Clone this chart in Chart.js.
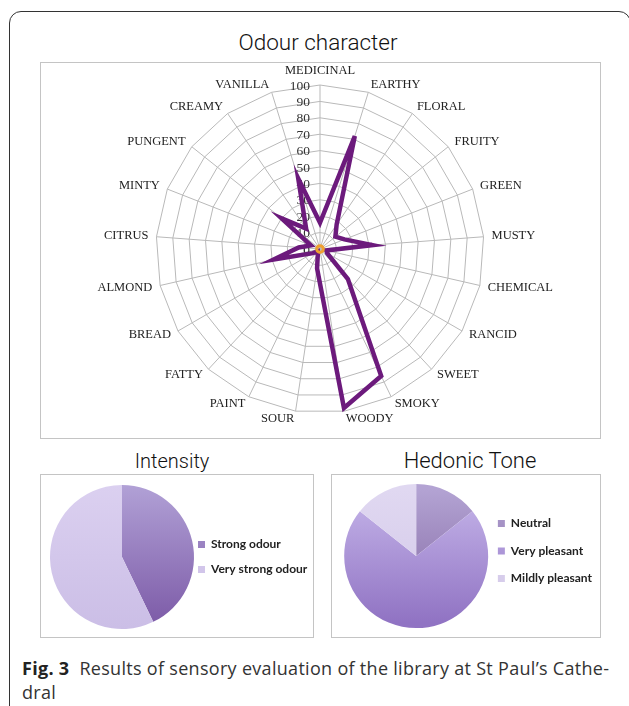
<!DOCTYPE html>
<html>
<head>
<meta charset="utf-8">
<title>Odour character</title>
<script src="https://cdn.jsdelivr.net/npm/chart.js@4.4.1/dist/chart.umd.min.js"></script>
<style>
  body { margin: 0; width: 629px; height: 706px; background: #fff; position: relative; overflow: hidden; }
  .frame { position: absolute; left: 9px; top: 11px; width: 620px; height: 740px; border: 1px solid #333; border-radius: 12px; }
  .box { position: absolute; border: 1px solid #c4c4c4; box-sizing: border-box; }
  .title { position: absolute; font-family: Roboto, "Liberation Sans", sans-serif; font-weight: 300; color: #111; text-align: center; line-height: 24px; }
  canvas { position: absolute; }
  .caption { position: absolute; left: 22px; top: 656px; width: 607px; font-family: "Open Sans", sans-serif; font-size: 18px; letter-spacing: 0.3px; line-height: 24px; color: #333; white-space: nowrap; }
  .caption b { color: #222; }
</style>
</head>
<body>
<div class="frame"></div>

<div class="title" style="left:168px; top:30px; width:300px; font-size:22.5px;">Odour character</div>
<div class="box" style="left:40px; top:62px; width:561px; height:377px;"></div>
<canvas id="odour" width="559" height="375" style="left:41px; top:63px;"></canvas>

<div class="title" style="left:72px; top:449px; width:200px; font-size:20px;">Intensity</div>
<div class="box" style="left:40px; top:474px; width:274px; height:164px;"></div>
<canvas id="intensity" width="270" height="162" style="left:41px; top:475px;"></canvas>

<div class="title" style="left:370px; top:449px; width:200px; font-size:22px;">Hedonic Tone</div>
<div class="box" style="left:331px; top:474px; width:270px; height:164px;"></div>
<canvas id="hedonic" width="270" height="162" style="left:332px; top:475px;"></canvas>

<div class="caption"><b>Fig. 3</b>&nbsp; Results of sensory evaluation of the library at St Paul’s Cathe-<br>dral</div>

<script>
// Odour character radar
const odourLabels = ['MEDICINAL', 'EARTHY', 'FLORAL', 'FRUITY', 'GREEN', 'MUSTY', 'CHEMICAL',
  'RANCID', 'SWEET', 'SMOKY', 'WOODY', 'SOUR', 'PAINT', 'FATTY', 'BREAD', 'ALMOND',
  'CITRUS', 'MINTY', 'PUNGENT', 'CREAMY', 'VANILLA'];
const odourValues = [16, 72, 18, 12, 16, 32, 4, 5, 25, 86, 98, 12, 3, 2, 5, 29, 13, 6, 30, 15, 45];
const odourBaseline = [2, 2, 2, 2, 2, 2, 2, 2, 2, 2, 2, 2, 2, 2, 2, 2, 2, 2, 2, 2, 2];
const radarTicks = [0, 10, 20, 30, 40, 50, 60, 70, 80, 90, 100];

// Intensity pie
const intensityLabels = ['Strong odour', 'Very strong odour'];
const intensityValues = [3, 4];
const intensityTop = ['#b1a1d6', '#dbd0f0'];
const intensityBottom = ['#7b59a6', '#cbbee6'];

// Hedonic tone pie
const hedonicLabels = ['Neutral', 'Very pleasant', 'Mildly pleasant'];
const hedonicValues = [1, 5, 1];
const hedonicTop = ['#b3a3d3', '#c6b6ea', '#e0d8f1'];
const hedonicBottom = ['#7f639f', '#9073c3', '#d2c7e8'];

// tick labels sit just left of the vertical axis, like the spreadsheet chart
const radarTickPlugin = {
  id: 'radarTicks',
  beforeDatasetsDraw(chart) {
    const s = chart.scales.r;
    const ctx = chart.ctx;
    ctx.save();
    ctx.font = '13.5px "Liberation Serif"';
    ctx.fillStyle = '#333';
    ctx.textAlign = 'right';
    ctx.textBaseline = 'middle';
    radarTicks.forEach(v => {
      const y = s.yCenter - s.getDistanceFromCenterForValue(v);
      ctx.fillText(String(v), s.xCenter - 10, y + 1);
    });
    ctx.restore();
  }
};

// category labels centred on the spoke ends (Chart.js would push them fully outside)
const radarLabelPlugin = {
  id: 'radarLabels',
  afterDraw(chart) {
    const s = chart.scales.r;
    const ctx = chart.ctx;
    ctx.save();
    ctx.font = '12.5px "Liberation Serif"';
    ctx.fillStyle = '#222';
    odourLabels.forEach((label, i) => {
      const p = s.getPointPosition(i, s.drawingArea + 8);
      const dx = p.x - s.xCenter;
      if (Math.abs(dx) < 1) {
        ctx.textAlign = 'center';
        ctx.textBaseline = p.y < s.yCenter ? 'bottom' : 'top';
      } else {
        ctx.textAlign = dx > 0 ? 'left' : 'right';
        ctx.textBaseline = 'middle';
      }
      ctx.fillText(label, p.x, p.y);
    });
    ctx.restore();
  }
};

new Chart(document.getElementById('odour'), {
  type: 'radar',
  data: {
    labels: odourLabels,
    datasets: [
      { data: odourBaseline, borderColor: '#f0a030', borderWidth: 3, fill: false },
      { data: odourValues, borderColor: '#6c1a7c', borderWidth: 4.5, fill: false }
    ]
  },
  options: {
    responsive: false,
    animation: false,
    devicePixelRatio: 1,
    layout: { padding: { top: 22, bottom: 25, left: 0, right: 0 } },
    elements: { point: { radius: 0 }, line: { tension: 0, borderJoinStyle: 'miter' } },
    plugins: { legend: { display: false }, tooltip: { enabled: false } },
    scales: {
      r: {
        min: 0,
        max: 100,
        ticks: { stepSize: 10, display: false },
        grid: { color: '#b9b9b9', lineWidth: 1 },
        angleLines: { color: '#b9b9b9', lineWidth: 1 },
        pointLabels: { display: false }
      }
    }
  },
  plugins: [radarTickPlugin, radarLabelPlugin]
});

function gradientFill(top, bottom) {
  return function (ctx) {
    const area = ctx.chart.chartArea;
    if (!area) return top[ctx.dataIndex];
    const g = ctx.chart.ctx.createLinearGradient(0, area.top, 0, area.bottom);
    g.addColorStop(0, top[ctx.dataIndex]);
    g.addColorStop(1, bottom[ctx.dataIndex]);
    return g;
  };
}

// topGap: empty title strip that pushes the pie down without moving the legend
function pieOptions(pad, legendPad, topGap) {
  return {
    responsive: false,
    animation: false,
    devicePixelRatio: 1,
    radius: 72,
    layout: { padding: pad },
    plugins: {
      tooltip: { enabled: false },
      title: { display: topGap > 0, text: ' ', font: { size: 1 }, padding: { top: topGap, bottom: 0 } },
      legend: {
        position: 'right',
        align: 'center',
        labels: {
          boxWidth: 7,
          boxHeight: 7,
          padding: legendPad,
          color: '#222',
          font: { family: 'Lato', weight: 'bold', size: 12 }
        }
      }
    }
  };
}

new Chart(document.getElementById('intensity'), {
  type: 'pie',
  data: {
    labels: intensityLabels,
    datasets: [{ data: intensityValues, backgroundColor: gradientFill(intensityTop, intensityBottom), borderWidth: 0 }]
  },
  options: pieOptions({ top: 10, bottom: 8, left: 18, right: 0 }, 13, 0)
});

new Chart(document.getElementById('hedonic'), {
  type: 'pie',
  data: {
    labels: hedonicLabels,
    datasets: [{ data: hedonicValues, backgroundColor: gradientFill(hedonicTop, hedonicBottom), borderWidth: 0 }]
  },
  options: pieOptions({ top: 4, bottom: 14, left: 18, right: 0 }, 15.5, 9)
});
</script>
</body>
</html>
